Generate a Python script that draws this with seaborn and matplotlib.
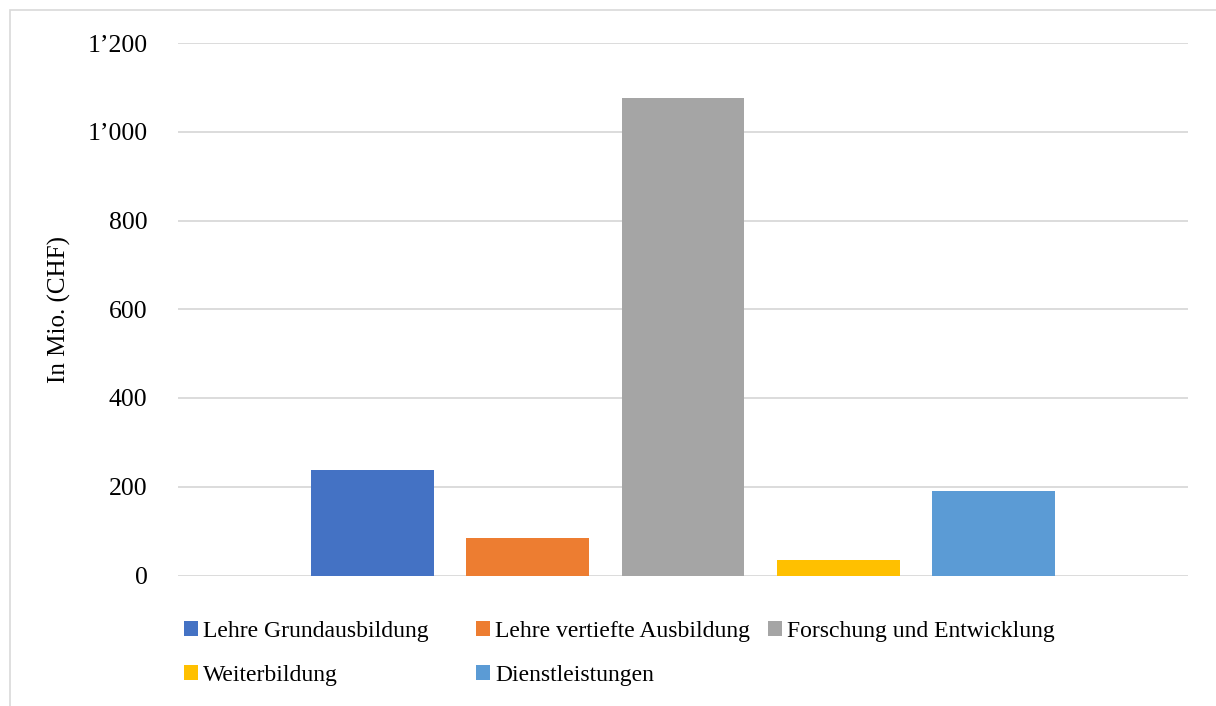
import matplotlib
matplotlib.use("Agg")
import matplotlib.pyplot as plt
from matplotlib.patches import Rectangle
from matplotlib.ticker import FuncFormatter
import seaborn as sns

# Expenditure by task area (in million CHF)
categories = [
    "Lehre Grundausbildung",
    "Lehre vertiefte Ausbildung",
    "Forschung und Entwicklung",
    "Weiterbildung",
    "Dienstleistungen",
]
values = [238, 85, 1077, 35, 191]
colors = ["#4472C4", "#ED7D31", "#A5A5A5", "#FFC000", "#5B9BD5"]
y_ticks = [0, 200, 400, 600, 800, 1000, 1200]

sns.set_theme(style="white")
plt.rcParams["font.family"] = ["Liberation Serif", "DejaVu Serif"]

W, H = 1216, 706
fig = plt.figure(figsize=(W / 100, H / 100), dpi=100)
ax = fig.add_axes([178 / W, 1 - 575.5 / H, (1188 - 178) / W, (575.5 - 43) / H])

sns.barplot(
    x=categories, y=values, hue=categories, palette=colors,
    width=0.791, saturation=1, linewidth=0, legend=False, ax=ax,
)

ax.set_xlim(-1.253, len(categories) - 1 + 1.253)
ax.set_ylim(0, 1200)
ax.set_yticks(y_ticks)
ax.yaxis.set_major_formatter(
    FuncFormatter(lambda v, _: f"{int(v):,}".replace(",", "\u2019"))
)
ax.set_xticks([])
ax.set_xlabel("")
ax.tick_params(axis="y", length=0, pad=22, labelsize=18.5, labelcolor="black")
ax.set_ylabel("In Mio. (CHF)", fontsize=18, color="black")
ax.yaxis.set_label_coords(-0.106, 0.5)

ax.set_axisbelow(True)
ax.yaxis.grid(True, color="#D9D9D9", linewidth=1.3)
ax.xaxis.grid(False)
for s in ax.spines.values():
    s.set_visible(False)

# Legend entries in a fixed grid below the plot
col_x = [184, 476, 768]
row_y = [631, 675.5]
for i, (label, patch) in enumerate(zip(categories, ax.patches)):
    r, c = divmod(i, 3)
    leg = fig.legend(
        [patch], [label],
        loc="center left",
        bbox_to_anchor=(col_x[c] / W, 1 - row_y[r] / H),
        frameon=False, fontsize=17, borderpad=0, borderaxespad=0,
        handlelength=0.59, handleheight=0.59, handletextpad=0.22,
    )
    for t in leg.get_texts():
        t.set_color("black")

# Chart area border
fig.add_artist(Rectangle(
    (9.5 / W, -0.1), 1.2, 1 - 10 / H + 0.1,
    transform=fig.transFigure, facecolor="none",
    edgecolor="#D9D9D9", linewidth=1.2,
))

fig.savefig("out.png", dpi=100)
